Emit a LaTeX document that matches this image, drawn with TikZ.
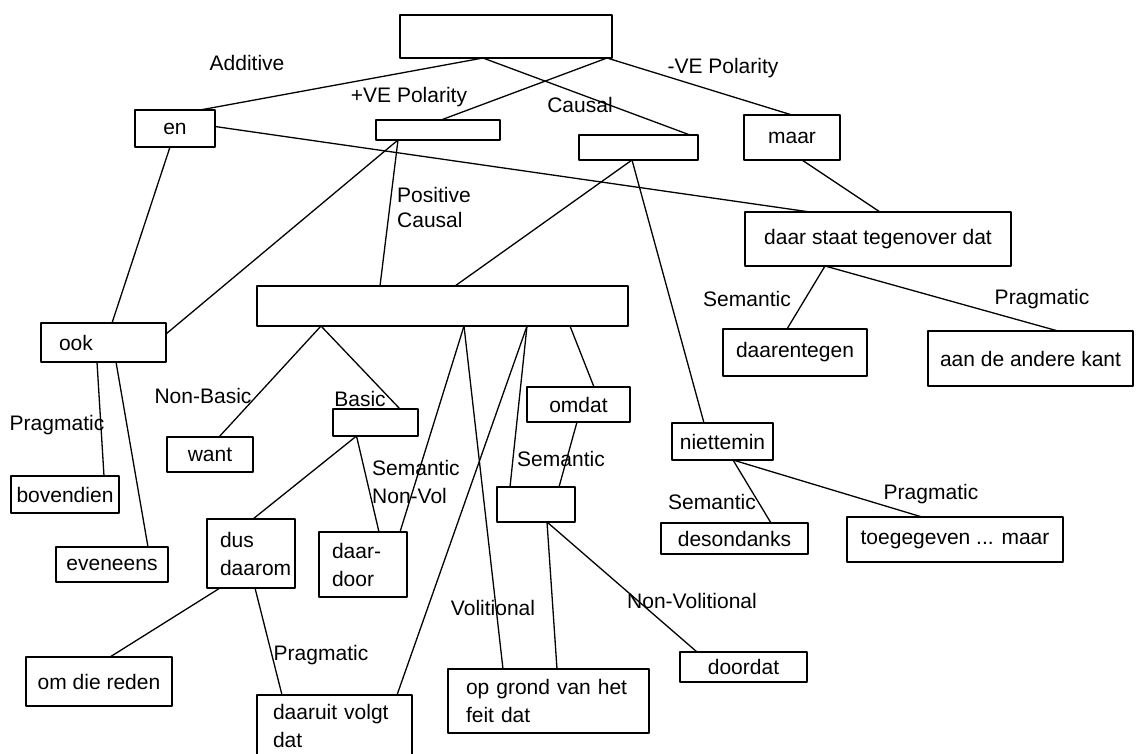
\documentclass[tikz,border=0pt]{standalone}
\usepackage{fontspec}
\setmainfont{Liberation Sans}
\begin{document}
\begin{tikzpicture}[x=1pt, y=-1pt, line cap=round, line join=round,
    box/.style={draw, line width=1.6pt, inner sep=0pt, outer sep=0pt,
      font=\fontsize{21}{28}\selectfont},
    tag/.style={inner sep=0pt, font=\fontsize{21}{25}\selectfont},
    link/.style={line width=1.3pt}]
  \useasboundingbox (0,0) rectangle (1136,753);
  % top level
  \node[box, minimum width=212pt, minimum height=43pt] (root) at (506,36.5) {};
  \node[box, minimum width=80pt, minimum height=37pt] (en) at (175,128.5) {en};
  \node[box, minimum width=124pt, minimum height=20pt] (pos) at (438,130) {};
  \node[box, minimum width=119pt, minimum height=25pt] (caus) at (638.5,147.5) {};
  \node[box, minimum width=96pt, minimum height=45pt] (maar) at (792,137.5) {maar};
  \node[box, minimum width=266pt, minimum height=54pt] (dstd) at (878,239) {daar staat tegenover dat};
  \node[box, minimum width=144pt, minimum height=47pt] (daarentegen) at (795,352.5) {daarentegen};
  \node[box, minimum width=205pt, minimum height=55pt] (andere) at (1030.5,358.5) {aan de andere kant};
  % middle
  \node[box, minimum width=125pt, minimum height=39pt, align=left, text width=89pt] (ook) at (103.5,342.5) {ook};
  \node[box, minimum width=371pt, minimum height=40pt] (big) at (442.5,306) {};
  \node[box, minimum width=86pt, minimum height=35pt] (want) at (210,454.5) {want};
  \node[box, minimum width=108pt, minimum height=37pt] (boven) at (65,494.5) {bovendien};
  \node[box, minimum width=85pt, minimum height=27pt] (basic) at (375.5,422.5) {};
  \node[box, minimum width=103pt, minimum height=35pt] (omdat) at (578.5,404.5) {omdat};
  \node[box, minimum width=78pt, minimum height=35pt] (sem) at (536,504.5) {};
  \node[box, minimum width=101pt, minimum height=37pt] (niet) at (722.5,441.5) {niettemin};
  \node[box, minimum width=147pt, minimum height=31pt] (desond) at (734.5,538.5) {desondanks};
  \node[box, minimum width=216pt, minimum height=45pt] (toeg) at (955,539.5) {toegegeven ... maar};
  % bottom
  \node[box, minimum width=112pt, minimum height=35pt] (even) at (112,564.5) {eveneens};
  \node[box, minimum width=88pt, minimum height=69pt, align=left, text width=62pt] (dus) at (251,553.5) {dus\\daarom};
  \node[box, minimum width=88pt, minimum height=65pt, align=left, text width=62pt] (door) at (363,564.5) {daar-\\door};
  \node[box, minimum width=146pt, minimum height=49pt] (reden) at (99,681.5) {om die reden};
  \node[box, minimum width=155pt, minimum height=62pt, align=left, text width=123pt] (volgt) at (334.5,726) {daaruit volgt\\dat};
  \node[box, minimum width=201pt, minimum height=64pt, align=left, text width=165pt] (grond) at (548.5,701) {op grond van het\\feit dat};
  \node[box, minimum width=127pt, minimum height=30pt] (doordat) at (743.5,667) {doordat};
  % labels
  \node[tag] (tAdd) at (247,63) {Additive};
  \node[tag] (tPos) at (409,97) {+VE Polarity};
  \node[tag] (tNeg) at (723,68) {-VE Polarity};
  \node[tag] (tCaus) at (580,105) {Causal};
  \node[tag, anchor=west, align=left] (tPosC) at (397,207) {Positive\\Causal};
  \node[tag] (tSemA) at (747,299) {Semantic};
  \node[tag] (tPraA) at (1042,299) {Pragmatic};
  \node[tag] (tPraO) at (57,425) {Pragmatic};
  \node[tag] (tNonB) at (203,396) {Non-Basic};
  \node[tag] (tBas) at (360,399) {Basic};
  \node[tag, anchor=west, align=left] (tSemN) at (372,482) {Semantic\\[3pt]Non-Vol};
  \node[tag] (tSemO) at (561,459) {Semantic};
  \node[tag] (tSemT) at (712,502) {Semantic};
  \node[tag] (tPraT) at (931,494) {Pragmatic};
  \node[tag] (tVol) at (493,608) {Volitional};
  \node[tag] (tNonV) at (692,601) {Non-Volitional};
  \node[tag] (tPraD) at (321,655) {Pragmatic};
  % connectors
  \draw[link] ([xshift=-23pt]root.south) -- ([xshift=25pt]en.north);
  \draw[link] ([xshift=-23pt]root.south) -- ([xshift=51.5pt]caus.north);
  \draw[link] ([xshift=101pt]root.south) -- ([xshift=3pt]pos.north);
  \draw[link] ([xshift=101pt]root.south) -- (maar.north);
  \draw[link] ([yshift=2pt]en.east) -- ([xshift=-68pt]dstd.north);
  \draw[link] ([xshift=10pt]maar.south) -- ([xshift=2pt]dstd.north);
  \draw[link] ([xshift=-53pt]dstd.south) -- ([xshift=-8pt]daarentegen.north);
  \draw[link] ([xshift=-53pt]dstd.south) -- ([xshift=27.5pt]andere.north);
  \draw[link] ([xshift=-5pt]en.south) -- ([xshift=8.5pt]ook.north);
  \draw[link] ([xshift=-40pt]pos.south) -- ([yshift=8.5pt]ook.east);
  \draw[link] ([xshift=-40pt]pos.south) -- ([xshift=-62.5pt]big.north);
  \draw[link] ([xshift=-6.5pt]caus.south) -- ([xshift=12.5pt]big.north);
  \draw[link] ([xshift=-6.5pt]caus.south) -- ([xshift=-18.5pt]niet.north);
  \draw[link] ([xshift=-6.5pt]ook.south) -- ([xshift=39pt]boven.north);
  \draw[link] ([xshift=12.5pt]ook.south) -- ([xshift=36pt]even.north);
  \draw[link] ([xshift=-121.5pt]big.south) -- ([xshift=9pt]want.north);
  \draw[link] ([xshift=-121.5pt]big.south) -- ([xshift=24.5pt]basic.north);
  \draw[link] ([xshift=21.5pt]big.south) -- ([xshift=37pt]door.north);
  \draw[link] ([xshift=21.5pt]big.south) -- ([xshift=-45.5pt]grond.north);
  \draw[link] ([xshift=84.5pt]big.south) -- ([xshift=62.5pt]volgt.north);
  \draw[link] ([xshift=84.5pt]big.south) -- ([xshift=-26pt]sem.north);
  \draw[link] ([xshift=127.5pt]big.south) -- ([xshift=15.5pt]omdat.north);
  \draw[link] ([xshift=-1.5pt]omdat.south) -- ([xshift=23pt]sem.north);
  \draw[link] ([xshift=-19pt]basic.south) -- ([xshift=2pt]dus.north);
  \draw[link] ([xshift=-19pt]basic.south) -- ([xshift=16pt]door.north);
  \draw[link] ([xshift=11pt]sem.south) -- ([xshift=8.5pt]grond.north);
  \draw[link] ([xshift=11pt]sem.south) -- ([xshift=-46.5pt]doordat.north);
  \draw[link] ([xshift=10.5pt]niet.south) -- ([xshift=36.5pt]desond.north);
  \draw[link] ([xshift=10.5pt]niet.south) -- ([xshift=-33pt]toeg.north);
  \draw[link] ([xshift=-31pt]dus.south) -- ([xshift=11pt]reden.north);
  \draw[link] ([xshift=4pt]dus.south) -- ([xshift=-52.5pt]volgt.north);
\end{tikzpicture}
\end{document}
